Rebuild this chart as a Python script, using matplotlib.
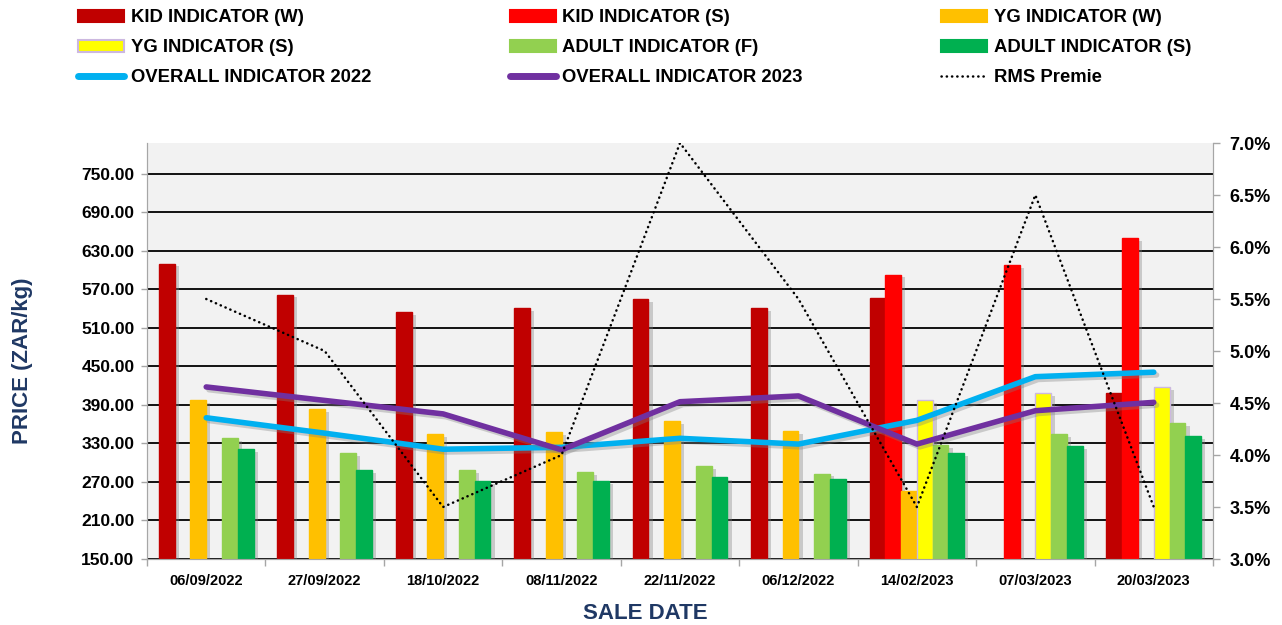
import matplotlib
matplotlib.use("Agg")
import matplotlib.pyplot as plt
import matplotlib.patheffects as pe
from matplotlib.patches import Patch
from matplotlib.lines import Line2D
from matplotlib.ticker import FixedLocator, FuncFormatter, PercentFormatter
import numpy as np

# --- data ---
sale_dates = ['06/09/2022', '27/09/2022', '18/10/2022', '08/11/2022', '22/11/2022',
              '06/12/2022', '14/02/2023', '07/03/2023', '20/03/2023']

kid_w = [610, 562, 535, 541, 555, 541, 556, 0, 409]
kid_s = [0, 0, 0, 0, 0, 0, 593, 608, 650]
yg_w = [398, 383, 345, 348, 365, 349, 256, 0, 0]
yg_s = [0, 0, 0, 0, 0, 0, 398, 409, 418]
adult_f = [338, 315, 289, 285, 295, 283, 327, 345, 362]
adult_s = [321, 289, 271, 271, 278, 274, 315, 326, 342]

overall_2022 = [370, 346, 321, 324, 338, 329, 366, 434, 441]
overall_2023 = [418, 397, 376, 320, 395, 404, 329, 381, 394]

rms_premie = [0.055, 0.050, 0.035, 0.040, 0.070, 0.055, 0.035, 0.065, 0.035]

# --- styling ---
plt.rcParams['font.family'] = ['Liberation Sans', 'DejaVu Sans']
plt.rcParams['font.weight'] = 'bold'

NAVY = '#1F3864'
GREY = '#A6A6A6'

bar_series = [
    ('KID INDICATOR (W)', kid_w, '#C00000', '#C00000'),
    ('KID INDICATOR (S)', kid_s, '#FF0000', '#FF0000'),
    ('YG INDICATOR (W)', yg_w, '#FFC000', '#FFC000'),
    ('YG INDICATOR (S)', yg_s, '#FFFF00', '#CCB8E0'),
    ('ADULT INDICATOR (F)', adult_f, '#92D050', '#92D050'),
    ('ADULT INDICATOR (S)', adult_s, '#00B050', '#00B050'),
]

fig = plt.figure(figsize=(12.82, 6.25), dpi=100)
ax1 = fig.add_axes([147 / 1282, 1 - 559 / 625, (1213 - 147) / 1282, (559 - 143) / 625])
ax1.set_facecolor('#F2F2F2')

x = np.arange(len(sale_dates))
n = len(bar_series)
width = 0.8 / n

shadow = [pe.SimplePatchShadow(offset=(3, -2), shadow_rgbFace='#7F7F7F', alpha=0.35), pe.Normal()]
line_shadow = [pe.SimpleLineShadow(offset=(2, -2), shadow_color='#7F7F7F', alpha=0.35), pe.Normal()]

for i, (label, vals, color, edge) in enumerate(bar_series):
    vals = np.array(vals, dtype=float)
    vals[vals == 0] = np.nan
    ax1.bar(x + (i - (n - 1) / 2) * width, vals, width=width, color=color,
            edgecolor=edge, linewidth=1, zorder=3, path_effects=shadow)

ax1.plot(x, overall_2022, color='#00B0F0', linewidth=4, solid_capstyle='round',
         solid_joinstyle='round', zorder=5, path_effects=line_shadow)
ax1.plot(x, overall_2023, color='#7030A0', linewidth=4, solid_capstyle='round',
         solid_joinstyle='round', zorder=5, path_effects=line_shadow)

# left axis
ax1.set_xlim(-0.5, len(sale_dates) - 0.5)
ax1.set_ylim(150, 798)
ax1.yaxis.set_major_locator(FixedLocator(np.arange(150, 751, 60)))
ax1.yaxis.set_major_formatter(FuncFormatter(lambda v, p: f'{v:.2f}'))
ax1.grid(axis='y', color='black', linewidth=1.3, zorder=1)
ax1.set_axisbelow(True)
ax1.tick_params(axis='y', labelsize=12.5, length=4, width=1, color=GREY, pad=5)

ax1.set_xticks(x)
ax1.set_xticklabels(sale_dates, fontsize=10.5, fontweight='bold')
ax1.set_xticks(np.arange(-0.5, len(sale_dates), 1), minor=True)
ax1.tick_params(axis='x', which='major', length=0, pad=11)
ax1.tick_params(axis='x', which='minor', length=5, width=1, color=GREY)

for side in ['left', 'bottom', 'right']:
    ax1.spines[side].set_color(GREY)
ax1.spines['top'].set_visible(False)

ax1.set_ylabel('PRICE (ZAR/kg)', fontsize=16, fontweight='bold', color=NAVY,
               ha='center', va='center')
ax1.yaxis.set_label_coords(-0.117, 0.476)
ax1.set_xlabel('SALE DATE', fontsize=16, fontweight='bold', color=NAVY,
               ha='center', va='center')
ax1.xaxis.set_label_coords(0.467, -0.13)

# right axis - RMS premie
ax2 = ax1.twinx()
ax2.plot(x, rms_premie, color='black', linewidth=1.8, linestyle=(0, (0.1, 2.0)),
         dash_capstyle='round', zorder=6)
ax2.set_ylim(0.03, 0.07)
ax2.yaxis.set_major_locator(FixedLocator(np.arange(0.03, 0.0701, 0.005)))
ax2.yaxis.set_major_formatter(PercentFormatter(xmax=1, decimals=1))
ax2.tick_params(axis='y', labelsize=13, length=5, width=1, color=GREY, pad=7)
for lab in ax2.get_yticklabels():
    lab.set_fontweight('bold')
for side in ['left', 'bottom', 'right']:
    ax2.spines[side].set_color(GREY)
ax2.spines['top'].set_visible(False)

# legend - three columns, filled column by column
proxies = {}
for label, vals, color, edge in bar_series:
    proxies[label] = Patch(facecolor=color, edgecolor=edge, linewidth=1.5)
proxies['OVERALL INDICATOR 2022'] = Line2D([], [], color='#00B0F0', linewidth=5, solid_capstyle='round')
proxies['OVERALL INDICATOR 2023'] = Line2D([], [], color='#7030A0', linewidth=5, solid_capstyle='round')
proxies['RMS Premie'] = Line2D([], [], color='black', linewidth=1.8, linestyle=(0, (0.1, 2.0)),
                               dash_capstyle='round')

order = ['KID INDICATOR (W)', 'YG INDICATOR (S)', 'OVERALL INDICATOR 2022',
         'KID INDICATOR (S)', 'ADULT INDICATOR (F)', 'OVERALL INDICATOR 2023',
         'YG INDICATOR (W)', 'ADULT INDICATOR (S)', 'RMS Premie']

fig.legend([proxies[k] for k in order], order, ncol=3, loc='upper left',
           bbox_to_anchor=(78 / 1282, 1 - 9.5 / 625), frameon=False,
           prop={'family': 'Liberation Sans', 'weight': 'bold', 'size': 13.3},
           handlelength=2.5, handleheight=0.6, handletextpad=0.35,
           columnspacing=7.5, labelspacing=0.7, borderpad=0, borderaxespad=0)

fig.savefig('out.png', dpi=100)
